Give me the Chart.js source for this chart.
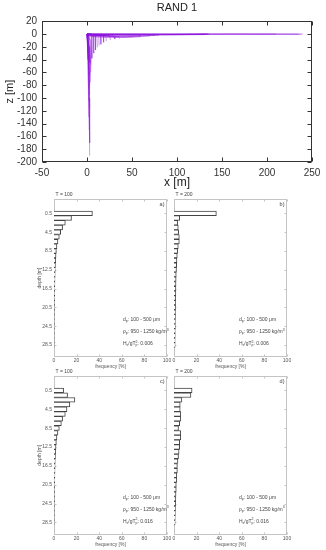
<!DOCTYPE html>
<html><head><meta charset="utf-8">
<script src="https://cdn.jsdelivr.net/npm/chart.js@4/dist/chart.umd.min.js"></script>
<style>
html,body{margin:0;padding:0;background:#fff;}
#wrap{position:relative;width:326px;height:550px;overflow:hidden;background:#fff;}
canvas{position:absolute;}
</style></head><body>
<div id="wrap">
<canvas id="ctop" width="326" height="192" style="left:0;top:0;width:326px;height:192px"></canvas>
<canvas id="pa" width="160" height="186" style="left:14px;top:186px;width:160px;height:186px"></canvas>
<canvas id="pb" width="161" height="186" style="left:165px;top:186px;width:161px;height:186px"></canvas>
<canvas id="pc" width="160" height="187" style="left:14px;top:363px;width:160px;height:187px"></canvas>
<canvas id="pd" width="161" height="187" style="left:165px;top:363px;width:161px;height:187px"></canvas>
</div>
<script>
// ---------- DATA ----------
// top panel: particle trajectories [x, z] (m)
const surfaceTracks = [
  [[0,0],[40,-0.5],[90,-0.8],[135,-0.3]],
  [[0,-0.5],[50,-1],[100,-1],[134,0]],
  [[0,0],[60,0],[120,-0.2],[136,0]],
  [[0,-1],[70,-1.5],[130,-1]],
  [[0,-0.5],[60,-1.5],[110,-1],[133,-0.5]],
  [[0,0],[100,0],[180,0],[240,0]],
  [[0,-0.3],[90,-0.5],[170,-0.2],[238,-0.5]],
  [[0,0],[80,-0.3],[160,0],[235,-0.3]],
  [[0,-0.8],[120,-0.5],[210,-0.3]],
  [[0,-1],[20,-3],[50,-3.5],[76,-2]],
  [[0,-2],[25,-4],[55,-4.5],[70,-3]],
  [[0,-2],[40,-3],[70,-2.5],[80,-2]],
  [[0,-1.5],[30,-3],[60,-2.5]],
  [[0,-2.5],[20,-4.5],[45,-5],[60,-4]],
  [[0,-3],[15,-5],[40,-5.5],[52,-4]]
];
const hookTracks = [
  [[0,0],[3,-1],[4,-48]],
  [[0,0],[5,-1],[5.5,-38]],
  [[0,0],[7,-1.5],[7.5,-30]],
  [[0,0],[9,-1.5],[9.5,-25]],
  [[0,0],[11,-2],[11.5,-21]],
  [[0,0],[13,-2],[13.5,-18]],
  [[0,0],[15,-2],[15.5,-16]],
  [[0,0],[18,-2.5],[18.5,-13]],
  [[0,0],[21,-3],[21.5,-11]],
  [[0,0],[25,-3],[26,-9.5]],
  [[0,0],[30,-3.5],[31,-8]],
  [[0,0],[35,-4],[36,-7]]
];
const sinkTracks = [
  [[0,0],[1,-20],[2,-70],[3,-190]],
  [[0,0],[1.5,-30],[2.5,-100],[3,-170]],
  [[0,0],[2,-40],[2.5,-150]],
  [[0,0],[1,-30],[2,-130]],
  [[0,0],[2,-50],[3,-115]],
  [[0,0],[1,-40],[2,-105]],
  [[0,0],[2,-30],[3,-95]],
  [[0,0],[1.5,-20],[2.5,-85]],
  [[0,0],[3,-25],[3.5,-75]],
  [[0,0],[2,-20],[3,-65]],
  [[0,0],[1,-15],[2,-55]],
  [[0,0],[2.5,-20],[3,-45]],
  [[0,0],[4,-10],[5,-30],[4,-60]],
  [[0,0],[3,-8],[4,-40],[3,-80]]
];

// histograms
const depthBins = [0.5,1.5,2.5,3.5,4.5,5.5,6.5,7.5,8.5,9.5,10.5,11.5,12.5,13.5,14.5,15.5,16.5,17.5,18.5,19.5,20.5,21.5,22.5,23.5,24.5,25.5,26.5,27.5,28.5];
const depthTicks = [0.5,4.5,8.5,12.5,16.5,20.5,24.5,28.5];
const freqA = [34,15.5,10,7.6,5.9,4.7,3.5,2.6,2.1,1.8,1.5,1.3,1.1,1.0,0.9,0.8,0.7,0.6,0.5,0.5,0.4,0.4,0.3,0.3,0.3,0.2,0.2,0.2,0.2];
const freqB = [37.5,5,3.2,3.8,4.1,4.7,4.7,3.8,3.2,2.9,2.6,2.4,2.2,2.0,1.9,1.8,1.7,1.6,1.5,1.4,1.4,1.3,1.3,1.2,1.2,1.1,1.1,1.0,1.0];
const freqC = [8.5,12,18.5,14,11.5,10,7.6,6.5,4.7,3.5,2.6,2.1,1.8,1.5,1.3,1.1,1.0,0.9,0.8,0.7,0.6,0.5,0.5,0.4,0.4,0.3,0.3,0.3,0.2];
const freqD = [16,15,7,5.5,5.5,6,6,5,4,6,6,5,5,4.5,4,3.5,3,3,2.5,2.5,2,2,1.8,1.6,1.5,1.3,1.2,1.1,1.0];

// ---------- RENDER ----------
const FONT = "'Liberation Sans', Arial, Helvetica, sans-serif";
Chart.defaults.font.family = FONT;
Chart.defaults.animation = false;

function drawRich(ctx, x, y, parts, size) {
  let cx = x;
  for (const [t, m] of parts) {
    if (m === 'subsup') {
      const [a, b] = t.split('|');
      ctx.font = (size * 0.7) + 'px ' + FONT;
      ctx.fillText(a, cx, y + size * 0.3);
      ctx.fillText(b, cx, y - size * 0.45);
      cx += Math.max(ctx.measureText(a).width, ctx.measureText(b).width);
      continue;
    }
    const s = m === 'n' ? size : size * 0.7;
    ctx.font = s + 'px ' + FONT;
    const dy = m === 'sub' ? size * 0.3 : (m === 'sup' ? -size * 0.45 : 0);
    ctx.fillText(t, cx, y + dy);
    cx += ctx.measureText(t).width;
  }
}

const deco = {
  id: 'deco',
  beforeDatasetsDraw(chart, args, o) {
    const {ctx, chartArea: a} = chart;
    const xs = chart.scales.x, ys = chart.scales.y;
    ctx.save();
    ctx.strokeStyle = o.frame; ctx.lineWidth = 1;
    const L = Math.round(a.left) + 0.5, T = Math.round(a.top) + 0.5;
    const R = Math.round(a.right) - 0.5, B = Math.round(a.bottom) - 0.5;
    ctx.strokeRect(L, T, R - L, B - T);
    ctx.beginPath();
    for (const t of xs.ticks) {
      const p = Math.round(xs.getPixelForValue(t.value)) + 0.5;
      ctx.moveTo(p, B); ctx.lineTo(p, B - o.tick);
      ctx.moveTo(p, T); ctx.lineTo(p, T + o.tick);
    }
    for (const t of ys.ticks) {
      const p = Math.round(ys.getPixelForValue(t.value)) + 0.5;
      ctx.moveTo(L, p); ctx.lineTo(L + o.tick, p);
      ctx.moveTo(R, p); ctx.lineTo(R - o.tick, p);
    }
    ctx.stroke();
    ctx.restore();
  },
  afterDraw(chart, args, o) {
    if (!o.tLabel) return;
    const {ctx, chartArea: a} = chart;
    ctx.save();
    ctx.fillStyle = '#444';
    ctx.textBaseline = 'middle';
    ctx.font = '5px ' + FONT;
    ctx.textAlign = 'center';
    ctx.fillText(o.tLabel, a.left + 10, a.top - 4.5);
    ctx.font = '5.5px ' + FONT;
    ctx.textAlign = 'right';
    ctx.fillText(o.corner, a.right - 2.5, a.top + 5);
    ctx.textAlign = 'left';
    const x0 = a.left + o.textX;
    drawRich(ctx, x0, a.bottom - 37, [['d','n'],['p','sub'],[': 100 - 500 \u03bcm','n']], 5);
    drawRich(ctx, x0, a.bottom - 25, [['\u03c1','n'],['p','sub'],[': 950 - 1250 kg/m','n'],['3','sup']], 5);
    drawRich(ctx, x0, a.bottom - 13, [['H','n'],['s','sub'],['/gT','n'],['p|2','subsup'],[': ' + o.hs,'n']], 5);
    ctx.restore();
  }
};

// top chart
const allTracks = [...surfaceTracks, ...hookTracks, ...sinkTracks];
new Chart(document.getElementById('ctop'), {
  type: 'line',
  data: {
    datasets: allTracks.map(tr => ({
      data: tr.map(p => ({x: p[0], y: p[1]})),
      borderColor: 'rgba(140,20,220,0.42)',
      borderWidth: 1, pointRadius: 0, fill: false, tension: 0
    }))
  },
  options: {
    responsive: false, devicePixelRatio: 1, animation: false,
    layout: {padding: {left: 0, right: 14, top: 0, bottom: 0}},
    plugins: {
      legend: {display: false}, tooltip: {enabled: false},
      title: {display: true, text: 'RAND 1', color: '#222', fullSize: false,
        font: {size: 11, weight: 'normal'}, padding: {top: 1, bottom: 7}},
      deco: {frame: '#333', tick: 4}
    },
    scales: {
      x: {type: 'linear', min: -50, max: 250,
        ticks: {stepSize: 50, autoSkip: false, maxRotation: 0, color: '#333', font: {size: 10}, padding: 5},
        grid: {display: false, drawTicks: false}, border: {display: false},
        title: {display: true, text: 'x [m]', color: '#222', font: {size: 12}, padding: {top: 0, bottom: 2}},
        afterFit: s => { s.height = 30; }
      },
      y: {type: 'linear', min: -200, max: 20,
        ticks: {stepSize: 20, autoSkip: false, color: '#333', font: {size: 10}, padding: 5},
        grid: {display: false, drawTicks: false}, border: {display: false},
        title: {display: true, text: 'z [m]', color: '#222', font: {size: 11}, padding: {top: 3, bottom: 0}},
        afterFit: s => { s.width = 42; }
      }
    }
  },
  plugins: [deco]
});

function makePanel(id, vals, cfg) {
  new Chart(document.getElementById(id), {
    type: 'bar',
    data: {
      datasets: [{
        data: depthBins.map((d, i) => ({x: vals[i], y: d})),
        backgroundColor: '#ffffff', borderColor: '#444', borderWidth: 1,
        barPercentage: 1, categoryPercentage: 1
      }]
    },
    options: {
      indexAxis: 'y',
      responsive: false, devicePixelRatio: 1, animation: false,
      layout: {padding: {left: 0, right: cfg.padRight, top: 13, bottom: 0}},
      plugins: {
        legend: {display: false}, tooltip: {enabled: false},
        deco: {frame: '#c4c4c4', tick: 2, tLabel: cfg.tLabel, corner: cfg.corner, textX: cfg.textX, hs: cfg.hs}
      },
      scales: {
        x: {type: 'linear', min: 0, max: 100,
          ticks: {stepSize: 20, autoSkip: false, maxRotation: 0, color: '#555', font: {size: 5}, padding: 1},
          grid: {display: false, drawTicks: false}, border: {display: false},
          title: {display: true, text: 'frequency [%]', color: '#555', font: {size: 5}, padding: {top: 0, bottom: 2}},
          afterFit: s => { s.height = cfg.xH; }
        },
        y: {type: 'linear', reverse: true, min: -0.45, max: 28.95,
          afterBuildTicks: s => { s.ticks = depthTicks.map(v => ({value: v})); },
          ticks: {display: cfg.showY, autoSkip: false, color: '#555', font: {size: 5}, padding: 2, callback: v => Number(v).toFixed(1)},
          grid: {display: false, drawTicks: false}, border: {display: false},
          title: {display: cfg.showY, text: 'depth [m]', color: '#555', font: {size: 5}, padding: {top: 23, bottom: 0}},
          afterFit: s => { s.width = cfg.yW; }
        }
      }
    },
    plugins: [deco]
  });
}

makePanel('pa', freqA, {padRight: 7, yW: 40, xH: 15, showY: true, tLabel: 'T = 100', corner: 'a)', textX: 69, hs: '0.006'});
makePanel('pb', freqB, {padRight: 39, yW: 9, xH: 15, showY: false, tLabel: 'T = 200', corner: 'b)', textX: 65, hs: '0.006'});
makePanel('pc', freqC, {padRight: 7, yW: 40, xH: 15.5, showY: true, tLabel: 'T = 100', corner: 'c)', textX: 69, hs: '0.016'});
makePanel('pd', freqD, {padRight: 39, yW: 9, xH: 15.5, showY: false, tLabel: 'T = 200', corner: 'd)', textX: 65, hs: '0.016'});
</script>
</body></html>
